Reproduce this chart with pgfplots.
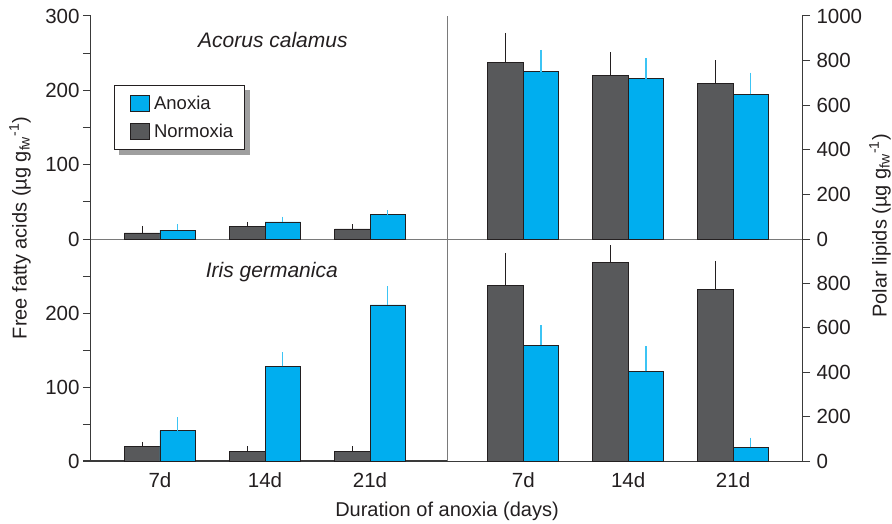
\documentclass[border=0pt]{standalone}
\usepackage{fontspec}
\setmainfont{Liberation Sans}
\usepackage{pgfplots}
\usepackage{pgfplotstable}
\pgfplotsset{compat=1.18}
\definecolor{darkbar}{HTML}{58595B}
\definecolor{bluebar}{HTML}{00AEEF}
\definecolor{blueerr}{HTML}{3CC4F4}
\definecolor{edge}{HTML}{231F20}
\definecolor{axisdark}{HTML}{3A3A3A}
\definecolor{axisgray}{HTML}{7A7A7A}

% Acorus calamus, free fatty acids
\pgfplotstableread{
x y e
1 8.1 9.4
2 17 6
3 13.5 6.5
}\acFFAnorm
\pgfplotstableread{
x y e
1 12 8
2 23 7
3 32.7 6
}\acFFAanox
% Acorus calamus, polar lipids
\pgfplotstableread{
x y e
1 792 132
2 734 103
3 697 104
}\acPLnorm
\pgfplotstableread{
x y e
1 750 98
2 719 93
3 649 97
}\acPLanox
% Iris germanica, free fatty acids
\pgfplotstableread{
x y e
1 20 6
2 13.5 6.5
3 13.5 6.5
}\irFFAnorm
\pgfplotstableread{
x y e
1 41 18
2 128 19
3 211 25
}\irFFAanox
% Iris germanica, polar lipids
\pgfplotstableread{
x y e
1 789 149
2 895 77
3 774 128
}\irPLnorm
\pgfplotstableread{
x y e
1 521 91
2 404 112
3 62 43
}\irPLanox

\pgfplotsset{
  panel/.style={
    scale only axis,
    ymin=0, clip=false,
    ybar=0pt, bar width=35.5pt,
    /pgf/number format/assume math mode=true,
    /pgf/number format/1000 sep={},
    tick label style={font=\fontsize{20.5}{24}\selectfont, text=edge},
    major tick length=8pt,
    ytick style={axisdark, line width=1pt},
    xtick style={draw=none},
  },
  darkplot/.style={fill=darkbar, draw=edge, line width=0.7pt,
    error bars/y dir=plus, error bars/y explicit, error bars/error mark=none,
    error bars/error bar style={edge, line width=1pt},
    legend image code/.code={\path (0pt,0pt) (28pt,0pt);\draw[fill=darkbar, draw=edge, line width=0.6pt] (7pt,-8pt) rectangle (26pt,8pt);}},
  blueplot/.style={fill=bluebar, draw=edge, line width=0.7pt,
    error bars/y dir=plus, error bars/y explicit, error bars/error mark=none,
    error bars/error bar style={blueerr, line width=1.2pt},
    legend image code/.code={\path (0pt,0pt) (28pt,0pt);\draw[fill=bluebar, draw=edge, line width=0.6pt] (7pt,-8pt) rectangle (26pt,8pt);}},
}

\begin{document}
\begin{tikzpicture}
% top-left: Acorus calamus, FFA
\begin{axis}[panel, at={(91pt,-16pt)}, anchor=north west,
  width=356pt, height=223pt,
  xmin=0.343, xmax=3.733, ymax=300,
  axis x line*=bottom, axis y line*=left, tick align=outside,
  x axis line style={axisgray, line width=1pt},
  y axis line style={axisdark, line width=1pt},
  xtick=\empty,
  ytick={0,50,...,300}, yticklabels={0,,100,,200,,300},
  reverse legend,
  legend cell align=left,
  legend style={name=leg, at={(0.0646,0.6906)}, anchor=north west,
    draw=edge, line width=0.8pt, fill=white,
    font=\fontsize{18.5}{22}\selectfont, text=edge,
    inner xsep=9pt, inner ysep=8.5pt, row sep=9pt},
]
\addplot[darkplot] table[x=x, y=y, y error=e] {\acFFAnorm};
\addlegendentry{Normoxia}
\addplot[blueplot] table[x=x, y=y, y error=e] {\acFFAanox};
\addlegendentry{Anoxia}
\draw[axisgray, line width=1pt] (rel axis cs:1,0) -- (rel axis cs:1,1);
\node[font=\itshape\fontsize{21}{24}\selectfont, text=edge] at (rel axis cs:0.511,0.892) {Acorus calamus};
\end{axis}
% legend shadow
\fill[gray!75] ([xshift=5pt,yshift=-5pt]leg.south west) rectangle ([xshift=5pt]leg.south east);
\fill[gray!75] ([yshift=-5pt]leg.north east) rectangle ([xshift=5pt,yshift=-5pt]leg.south east);

% top-right: Acorus calamus, polar lipids
\begin{axis}[panel, at={(447pt,-16pt)}, anchor=north west,
  width=355pt, height=223pt,
  xmin=0.273, xmax=3.657, ymax=1000,
  axis x line*=bottom, axis y line*=right, tick align=outside,
  x axis line style={axisgray, line width=1pt},
  y axis line style={axisdark, line width=1pt},
  xtick=\empty,
  ytick={0,200,...,1000},
  yticklabel style={xshift=3pt},
]
\addplot[darkplot] table[x=x, y=y, y error=e] {\acPLnorm};
\addplot[blueplot] table[x=x, y=y, y error=e] {\acPLanox};
\end{axis}

% bottom-left: Iris germanica, FFA
\begin{axis}[panel, at={(91pt,-239pt)}, anchor=north west,
  width=356pt, height=222pt,
  xmin=0.343, xmax=3.733, ymax=300,
  axis x line*=bottom, axis y line*=left, tick align=outside,
  x axis line style={axisdark, line width=1pt},
  y axis line style={axisdark, line width=1pt},
  xtick={1,2,3}, xticklabels={7d,14d,21d},
  ytick={0,50,...,250}, yticklabels={0,,100,,200,},
]
\addplot[darkplot] table[x=x, y=y, y error=e] {\irFFAnorm};
\addplot[blueplot] table[x=x, y=y, y error=e] {\irFFAanox};
\draw[axisgray, line width=1pt] (rel axis cs:1,0) -- (rel axis cs:1,1);
\node[font=\itshape\fontsize{21}{24}\selectfont, text=edge] at (rel axis cs:0.508,0.853) {Iris germanica};
\end{axis}

% bottom-right: Iris germanica, polar lipids
\begin{axis}[panel, at={(447pt,-239pt)}, anchor=north west,
  width=355pt, height=222pt,
  xmin=0.273, xmax=3.657, ymax=1000,
  axis x line*=bottom, axis y line*=right, tick align=outside,
  x axis line style={axisdark, line width=1pt},
  y axis line style={axisdark, line width=1pt},
  xtick={1,2,3}, xticklabels={7d,14d,21d},
  ytick={0,200,...,800},
  yticklabel style={xshift=3pt},
]
\addplot[darkplot] table[x=x, y=y, y error=e] {\irPLnorm};
\addplot[blueplot] table[x=x, y=y, y error=e] {\irPLanox};
\end{axis}

\node[font=\fontsize{20}{24}\selectfont, text=edge] at (447pt,-511pt) {Duration of anoxia (days)};
\node[font=\fontsize{20}{24}\selectfont, text=edge, rotate=90] at (20pt,-228pt) {Free fatty acids (µg g\textsubscript{fw}\textsuperscript{-1})};
\node[font=\fontsize{20}{24}\selectfont, text=edge, rotate=90] at (880pt,-226pt) {Polar lipids (µg g\textsubscript{fw}\textsuperscript{-1})};

\pgfresetboundingbox
\path[use as bounding box] (0pt,0pt) rectangle (892pt,-524pt);
\end{tikzpicture}
\end{document}
